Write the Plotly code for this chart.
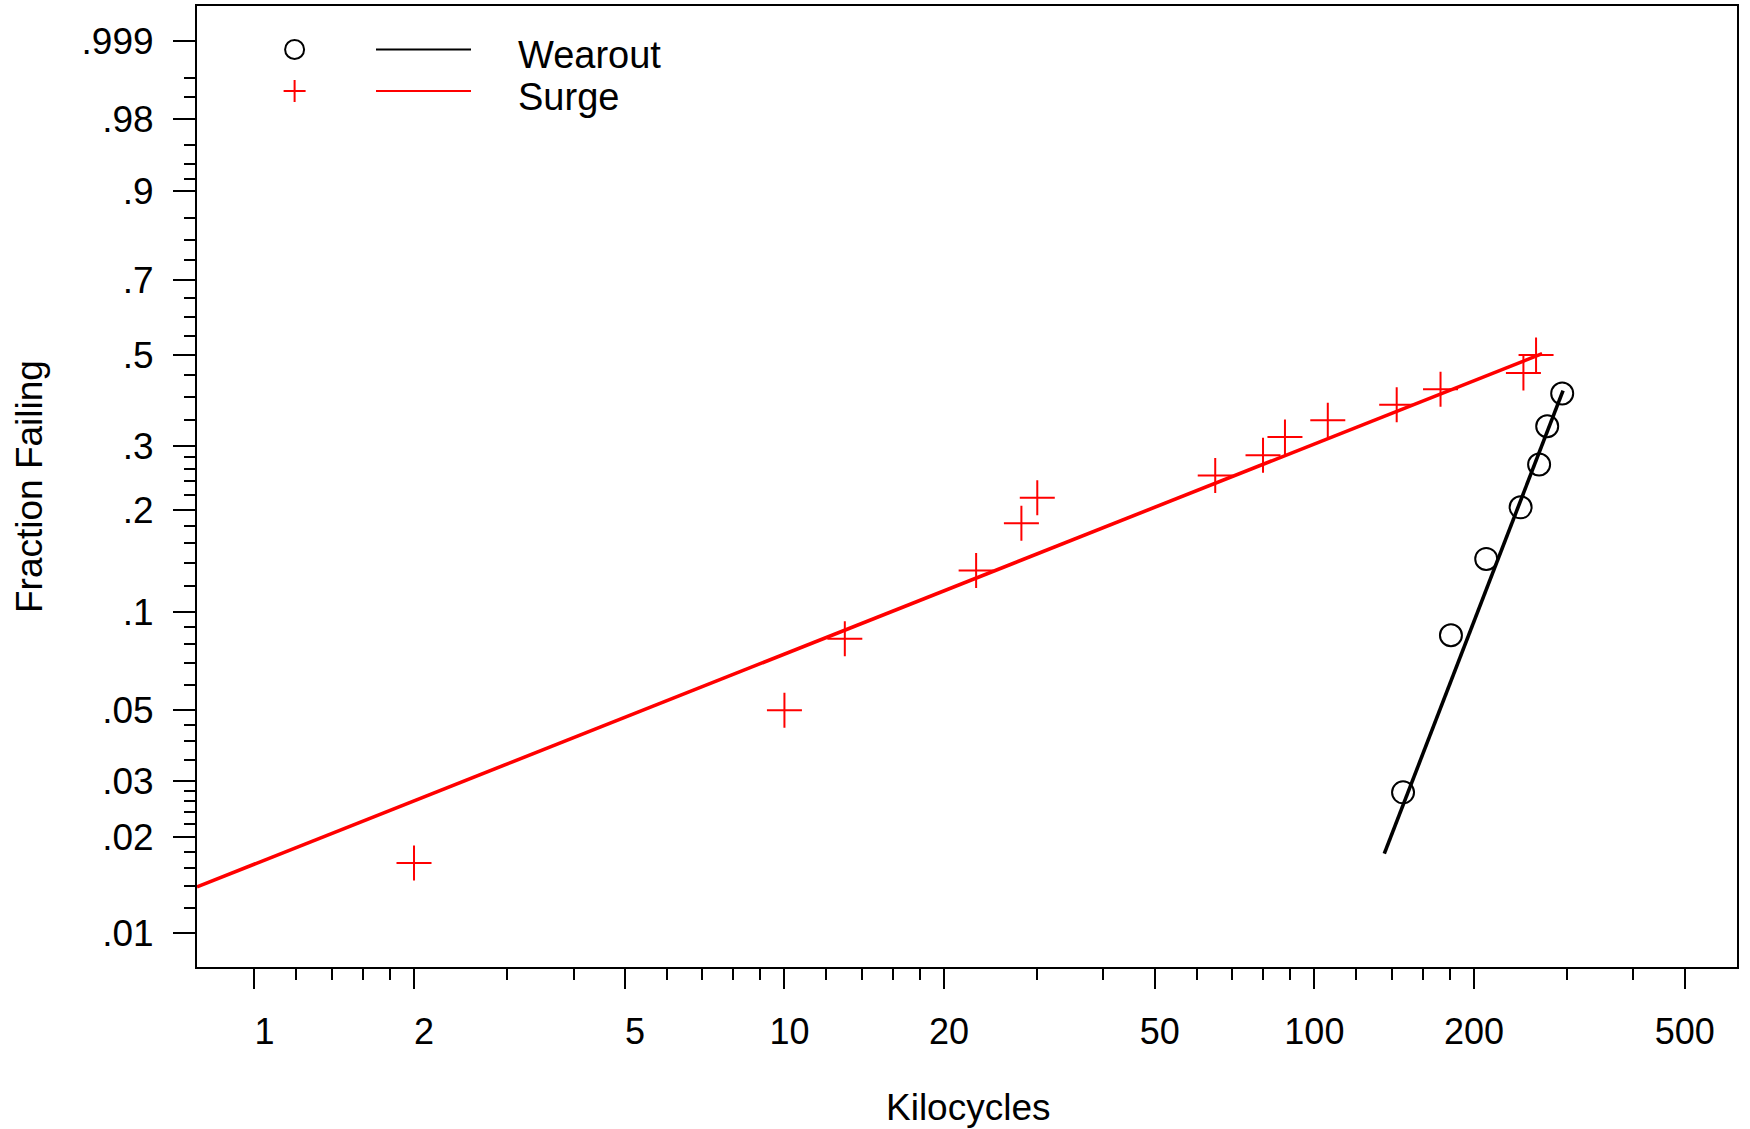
import numpy as np
import plotly.graph_objects as go

# ---------------- data ----------------
surge_kc = [2.0, 10.0, 13.0, 23.0, 28.0, 30.0, 65.0, 80.0, 88.0, 106.0, 143.0, 173.0, 248.0, 262.0]
surge_frac = [0.0166, 0.050, 0.083, 0.133, 0.183, 0.216, 0.249, 0.283, 0.316, 0.349, 0.382, 0.417, 0.455, 0.500]

wear_kc = [147.0, 181.0, 211.0, 245.0, 265.5, 275.0, 293.5]
wear_frac = [0.0277, 0.085, 0.144, 0.203, 0.267, 0.337, 0.407]

# fitted lines (end points)
surge_fit_kc = [0.779, 269.0]
surge_fit_frac = [0.01395, 0.5033]
wear_fit_kc = [135.5, 294.6]
wear_fit_frac = [0.01776, 0.4135]

x_major = [1, 2, 5, 10, 20, 50, 100, 200, 500]
x_major_text = ["1", "2", "5", "10", "20", "50", "100", "200", "500"]
x_minor = [1.2, 1.4, 1.6, 1.8, 3, 4, 6, 7, 8, 9, 12, 14, 16, 18, 30, 40,
           60, 70, 80, 90, 120, 140, 160, 180, 300, 400]

y_major = [0.999, 0.98, 0.9, 0.7, 0.5, 0.3, 0.2, 0.1, 0.05, 0.03, 0.02, 0.01]
y_major_text = [".999", ".98", ".9", ".7", ".5", ".3", ".2", ".1", ".05", ".03", ".02", ".01"]
y_minor = [0.995, 0.99, 0.96, 0.94, 0.92, 0.85, 0.8, 0.75, 0.65, 0.6, 0.55,
           0.45, 0.4, 0.35, 0.28, 0.26, 0.24, 0.22, 0.18, 0.16, 0.14, 0.12,
           0.09, 0.08, 0.07, 0.06, 0.045, 0.04, 0.035, 0.028, 0.026, 0.024,
           0.022, 0.018, 0.016, 0.014, 0.012]

x_range = [0.779, 627.3]
y_range_frac = [0.00778, 0.99987]


# Weibull probability scale
def wb(p):
    p = np.asarray(p, dtype=float)
    return np.log(-np.log(1.0 - p))


FONT = "Liberation Sans, Arial, Helvetica, sans-serif"
RED = "#ff0000"
# small left padding so short labels sit slightly right of their tick, as in the reference
PAD = {1: "\u2007", 2: "\u00a0", 3: ""}
x_tick_labels = [PAD[len(t)] + t for t in x_major_text]

fig = go.Figure()

fig.add_trace(go.Scatter(x=surge_fit_kc, y=wb(surge_fit_frac), mode="lines",
                         line=dict(color=RED, width=3.6), showlegend=False, hoverinfo="skip"))
fig.add_trace(go.Scatter(x=wear_fit_kc, y=wb(wear_fit_frac), mode="lines",
                         line=dict(color="black", width=3.6), showlegend=False, hoverinfo="skip"))
fig.add_trace(go.Scatter(x=surge_kc, y=wb(surge_frac), mode="markers", name="Surge",
                         marker=dict(symbol="cross-thin-open", size=25, color=RED,
                                     line=dict(color=RED, width=2)),
                         showlegend=False))
fig.add_trace(go.Scatter(x=wear_kc, y=wb(wear_frac), mode="markers", name="Wearout",
                         marker=dict(symbol="circle-open", size=22, color="black",
                                     line=dict(color="black", width=2)),
                         showlegend=False))

# ---------------- layout ----------------
W, H = 1750, 1129
ML, MR, MT, MB = 197, 13, 6, 162
PW, PH = W - ML - MR, H - MT - MB


def px(xp):
    return (xp - ML) / PW


def py(yp):
    return (H - MB - yp) / PH


fig.update_layout(
    width=W, height=H,
    margin=dict(l=ML, r=MR, t=MT, b=MB, autoexpand=False),
    paper_bgcolor="white", plot_bgcolor="white",
    font=dict(family=FONT, color="black", size=36),
    showlegend=False,
    xaxis=dict(
        type="log", range=[np.log10(x_range[0]), np.log10(x_range[1])],
        tickmode="array", tickvals=x_major, ticktext=x_tick_labels,
        ticks="outside", ticklen=20, tickwidth=1.5, tickcolor="black",
        tickfont=dict(size=36, family=FONT), ticklabelstandoff=12,
        minor=dict(tickmode="array", tickvals=x_minor, ticks="outside",
                   ticklen=11, tickwidth=1.5, tickcolor="black", showgrid=False),
        showline=True, linecolor="black", linewidth=2, mirror=True,
        showgrid=False, zeroline=False,
    ),
    yaxis=dict(
        range=[float(wb(y_range_frac[0])), float(wb(y_range_frac[1]))],
        tickmode="array", tickvals=list(wb(y_major)), ticktext=y_major_text,
        ticks="outside", ticklen=22, tickwidth=2, tickcolor="black",
        tickfont=dict(size=37, family=FONT), ticklabelstandoff=12,
        minor=dict(tickmode="array", tickvals=list(wb(y_minor)), ticks="outside",
                   ticklen=11, tickwidth=2, tickcolor="black", showgrid=False),
        showline=True, linecolor="black", linewidth=2, mirror=True,
        showgrid=False, zeroline=False,
    ),
)

# axis titles
fig.add_annotation(text="Kilocycles", xref="paper", yref="paper",
                   x=px(968), y=py(1107), showarrow=False,
                   font=dict(size=37, family=FONT), xanchor="center", yanchor="middle")
fig.add_annotation(text="Fraction Failing", xref="paper", yref="paper",
                   x=px(29), y=py(487), showarrow=False, textangle=-90,
                   font=dict(size=37, family=FONT), xanchor="center", yanchor="middle")

# legend (drawn manually: marker, line, label)
leg_rows = [("Wearout", "black", 49.5), ("Surge", RED, 91)]
for label, col, yp in leg_rows:
    if label == "Wearout":
        fig.add_shape(type="circle", xref="paper", yref="paper",
                      xsizemode="pixel", ysizemode="pixel",
                      xanchor=px(294.6), yanchor=py(yp),
                      x0=-9.5, x1=9.5, y0=-9.5, y1=9.5,
                      line=dict(color=col, width=2))
    else:
        fig.add_shape(type="line", xref="paper", yref="paper",
                      xsizemode="pixel", ysizemode="pixel",
                      xanchor=px(294.6), yanchor=py(yp),
                      x0=-11, x1=11, y0=0, y1=0, line=dict(color=col, width=2))
        fig.add_shape(type="line", xref="paper", yref="paper",
                      xsizemode="pixel", ysizemode="pixel",
                      xanchor=px(294.6), yanchor=py(yp),
                      x0=0, x1=0, y0=-11, y1=11, line=dict(color=col, width=2))
    fig.add_shape(type="line", xref="paper", yref="paper",
                  x0=px(376), x1=px(471), y0=py(yp), y1=py(yp),
                  line=dict(color=col, width=2))
    fig.add_annotation(text=label, xref="paper", yref="paper",
                       x=px(516), y=py(yp + 6), showarrow=False,
                       font=dict(size=38, family=FONT, color="black"),
                       xanchor="left", yanchor="middle")

fig.write_html("out.html")
